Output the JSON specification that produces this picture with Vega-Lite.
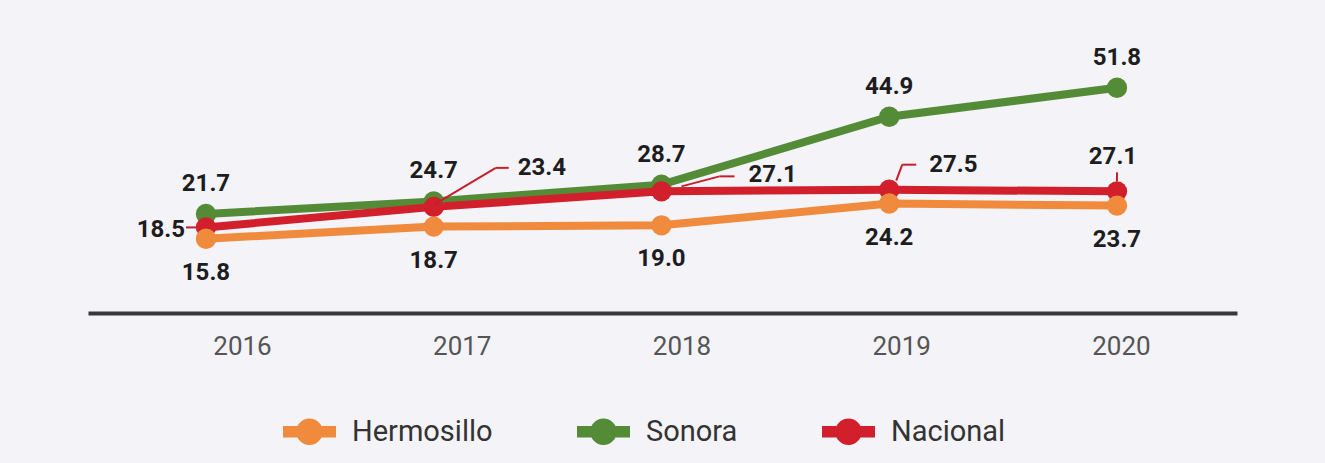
{
  "$schema": "https://vega.github.io/schema/vega-lite/v6.json",
  "width": 1149,
  "height": 260,
  "autosize": {"type": "none"},
  "padding": {"left": 88, "top": 45, "right": 88, "bottom": 158},
  "background": "#f3f3f8",
  "config": {"view": {"stroke": null}, "font": "Roboto"},
  "data": {
    "values": [
      {"year": 2016, "serie": "Sonora", "value": 21.7},
      {"year": 2017, "serie": "Sonora", "value": 24.7},
      {"year": 2018, "serie": "Sonora", "value": 28.7},
      {"year": 2019, "serie": "Sonora", "value": 44.9},
      {"year": 2020, "serie": "Sonora", "value": 51.8},
      {"year": 2016, "serie": "Nacional", "value": 18.5},
      {"year": 2017, "serie": "Nacional", "value": 23.4},
      {"year": 2018, "serie": "Nacional", "value": 27.1},
      {"year": 2019, "serie": "Nacional", "value": 27.5},
      {"year": 2020, "serie": "Nacional", "value": 27.1},
      {"year": 2016, "serie": "Hermosillo", "value": 15.8},
      {"year": 2017, "serie": "Hermosillo", "value": 18.7},
      {"year": 2018, "serie": "Hermosillo", "value": 19.0},
      {"year": 2019, "serie": "Hermosillo", "value": 24.2},
      {"year": 2020, "serie": "Hermosillo", "value": 23.7}
    ]
  },
  "layer": [
    {
      "encoding": {
        "x": {"field": "year", "type": "quantitative", "scale": {"domain": [2015.4819, 2020.527], "nice": false, "zero": false}, "axis": null},
        "y": {"field": "value", "type": "quantitative", "scale": {"domain": [0, 62], "nice": false}, "axis": null}
      },
      "layer": [
        {
          "mark": {"type": "line", "strokeWidth": 8},
          "encoding": {
            "color": {
              "field": "serie", "type": "nominal",
              "scale": {"domain": ["Hermosillo", "Sonora", "Nacional"], "range": ["#f08a3c", "#548b37", "#d11f2b"]},
              "legend": {
                "orient": "none", "legendX": 195, "legendY": 360, "direction": "horizontal", "title": null,
                "symbolType": "M-1,-0.22H1V0.22H-1Z M0.5,0A0.5,0.5,0,1,1,-0.5,0A0.5,0.5,0,1,1,0.5,0Z",
                "symbolSize": 2809, "symbolStrokeWidth": 0, "symbolOpacity": 1,
                "labelFont": "Roboto", "labelFontSize": 29, "labelColor": "#333333", "labelOffset": 16, "columnPadding": 84,
                "encode": {"symbols": {"update": {"fill": {"scale": "color", "field": "value"}, "stroke": {"value": "transparent"}}}}
              }
            }
          }
        },
        {
          "mark": {"type": "circle", "size": 415, "opacity": 1},
          "encoding": {"color": {"field": "serie", "type": "nominal"}}
        },
        {"transform": [{"filter": "datum.serie==='Nacional' && datum.year===2016"}], "mark": {"type": "rule", "color": "#c5202a", "strokeWidth": 2, "xOffset": -20, "yOffset": 0, "x2Offset": -9, "y2Offset": 0}, "encoding": {"x2": {"field": "year"}, "y2": {"field": "value"}}},
        {"transform": [{"filter": "datum.serie==='Nacional' && datum.year===2017"}], "mark": {"type": "rule", "color": "#c5202a", "strokeWidth": 2, "xOffset": 0, "yOffset": -2, "x2Offset": 62, "y2Offset": -39}, "encoding": {"x2": {"field": "year"}, "y2": {"field": "value"}}},
        {"transform": [{"filter": "datum.serie==='Nacional' && datum.year===2017"}], "mark": {"type": "rule", "color": "#c5202a", "strokeWidth": 2, "xOffset": 62, "yOffset": -39, "x2Offset": 75, "y2Offset": -39}, "encoding": {"x2": {"field": "year"}, "y2": {"field": "value"}}},
        {"transform": [{"filter": "datum.serie==='Nacional' && datum.year===2018"}], "mark": {"type": "rule", "color": "#c5202a", "strokeWidth": 2, "xOffset": 20, "yOffset": -5, "x2Offset": 58, "y2Offset": -15}, "encoding": {"x2": {"field": "year"}, "y2": {"field": "value"}}},
        {"transform": [{"filter": "datum.serie==='Nacional' && datum.year===2018"}], "mark": {"type": "rule", "color": "#c5202a", "strokeWidth": 2, "xOffset": 58, "yOffset": -15, "x2Offset": 73, "y2Offset": -15}, "encoding": {"x2": {"field": "year"}, "y2": {"field": "value"}}},
        {"transform": [{"filter": "datum.serie==='Nacional' && datum.year===2019"}], "mark": {"type": "rule", "color": "#c5202a", "strokeWidth": 2, "xOffset": 7, "yOffset": -9, "x2Offset": 13, "y2Offset": -25}, "encoding": {"x2": {"field": "year"}, "y2": {"field": "value"}}},
        {"transform": [{"filter": "datum.serie==='Nacional' && datum.year===2019"}], "mark": {"type": "rule", "color": "#c5202a", "strokeWidth": 2, "xOffset": 13, "yOffset": -25, "x2Offset": 27, "y2Offset": -25}, "encoding": {"x2": {"field": "year"}, "y2": {"field": "value"}}},
        {"transform": [{"filter": "datum.serie==='Nacional' && datum.year===2020"}], "mark": {"type": "rule", "color": "#c5202a", "strokeWidth": 2, "xOffset": 0, "yOffset": -19, "x2Offset": 0, "y2Offset": -10}, "encoding": {"x2": {"field": "year"}, "y2": {"field": "value"}}},
        {"transform": [{"filter": "datum.serie==='Sonora'"}], "mark": {"type": "text", "dy": -30, "align": "center", "baseline": "middle", "fontSize": 24, "fontWeight": "bold", "color": "#1d1d1f"}, "encoding": {"text": {"field": "value", "type": "quantitative", "format": ".1f"}}},
        {"transform": [{"filter": "datum.serie==='Hermosillo'"}], "mark": {"type": "text", "dy": 34, "align": "center", "baseline": "middle", "fontSize": 24, "fontWeight": "bold", "color": "#1d1d1f"}, "encoding": {"text": {"field": "value", "type": "quantitative", "format": ".1f"}}},
        {"transform": [{"filter": "datum.serie==='Nacional' && datum.year===2016"}], "mark": {"type": "text", "dx": -21, "dy": 3, "align": "right", "baseline": "middle", "fontSize": 24, "fontWeight": "bold", "color": "#1d1d1f"}, "encoding": {"text": {"field": "value", "type": "quantitative", "format": ".1f"}}},
        {"transform": [{"filter": "datum.serie==='Nacional' && datum.year===2017"}], "mark": {"type": "text", "dx": 84, "dy": -39, "align": "left", "baseline": "middle", "fontSize": 24, "fontWeight": "bold", "color": "#1d1d1f"}, "encoding": {"text": {"field": "value", "type": "quantitative", "format": ".1f"}}},
        {"transform": [{"filter": "datum.serie==='Nacional' && datum.year===2018"}], "mark": {"type": "text", "dx": 87, "dy": -16, "align": "left", "baseline": "middle", "fontSize": 24, "fontWeight": "bold", "color": "#1d1d1f"}, "encoding": {"text": {"field": "value", "type": "quantitative", "format": ".1f"}}},
        {"transform": [{"filter": "datum.serie==='Nacional' && datum.year===2019"}], "mark": {"type": "text", "dx": 40, "dy": -25, "align": "left", "baseline": "middle", "fontSize": 24, "fontWeight": "bold", "color": "#1d1d1f"}, "encoding": {"text": {"field": "value", "type": "quantitative", "format": ".1f"}}},
        {"transform": [{"filter": "datum.serie==='Nacional' && datum.year===2020"}], "mark": {"type": "text", "dx": -4, "dy": -34, "align": "center", "baseline": "middle", "fontSize": 24, "fontWeight": "bold", "color": "#1d1d1f"}, "encoding": {"text": {"field": "value", "type": "quantitative", "format": ".1f"}}}
      ]
    },
    {
      "mark": {"type": "point", "opacity": 0},
      "encoding": {
        "x": {
          "field": "year", "type": "quantitative",
          "scale": {"domain": [2015.2992, 2020.528], "nice": false, "zero": false},
          "axis": {"values": [2016, 2017, 2018, 2019, 2020], "format": "d", "title": null, "grid": false, "ticks": false, "tickSize": 0, "offset": 8,
                   "domainColor": "#38383c", "domainWidth": 4, "labelFontSize": 26, "labelColor": "#555555", "labelFont": "Roboto",
                   "labelPadding": 20, "labelFlush": false, "labelOverlap": false}
        },
        "y": {"field": "value", "type": "quantitative", "scale": {"domain": [0, 62], "nice": false}, "axis": null}
      }
    }
  ],
  "resolve": {"scale": {"x": "independent"}, "axis": {"x": "independent"}}
}
